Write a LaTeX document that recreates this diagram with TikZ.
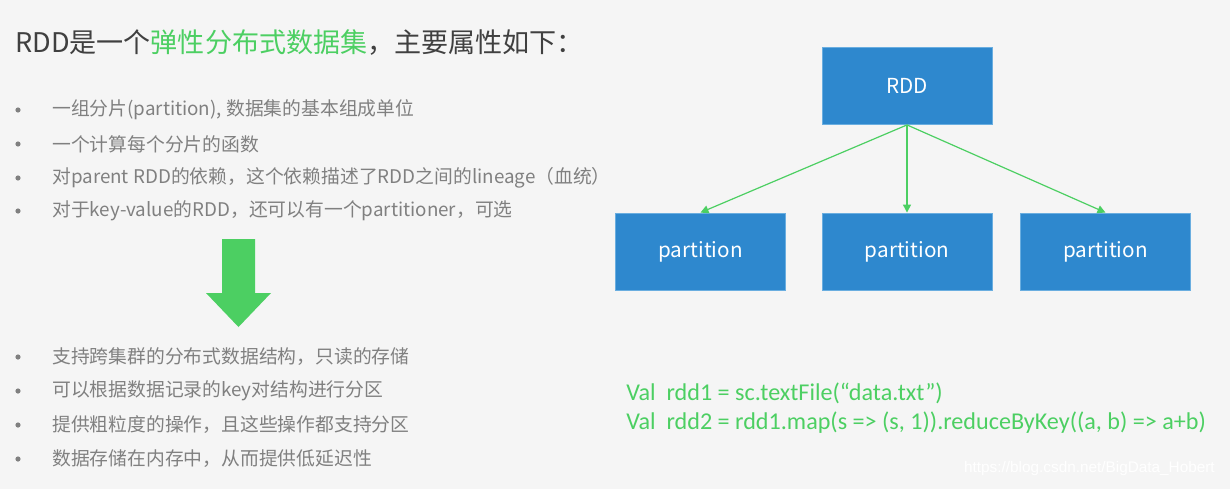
\documentclass[tikz,border=0pt]{standalone}
\usepackage{fontspec}
\setmainfont{Noto Sans CJK SC}
\newfontfamily\codefont{Carlito}
\newfontfamily\markfont{Liberation Sans}
\usetikzlibrary{arrows.meta,positioning}
\definecolor{bgcol}{HTML}{F5F5F5}
\definecolor{boxcol}{HTML}{2E88CE}
\definecolor{boxline}{HTML}{6AAEE0}
\definecolor{greencol}{HTML}{4CCF62}
\definecolor{titlecol}{HTML}{404040}
\definecolor{itemcol}{HTML}{808080}
\tikzset{
    blockbox/.style={draw=boxline,fill=boxcol,text=white,minimum width=127.5pt,minimum height=58pt,inner sep=0pt,font=\fontsize{15.5}{18}\selectfont},
    linkarrow/.style={draw=greencol,line width=0.9pt,-{Triangle[length=6pt,width=6pt]}},
    itemtext/.style={anchor=west,text=itemcol,inner sep=0pt,font=\fontsize{14.1}{17}\selectfont},
    codetext/.style={anchor=west,text=greencol,inner sep=0pt,font=\codefont\fontsize{18.1}{21}\selectfont}
}
\begin{document}
\begin{tikzpicture}[x=0.75pt,y=-0.75pt]
    %% background
    \fill[bgcol] (0,0) rectangle (1230,489);
    \useasboundingbox (0,0) rectangle (1230,489);
    %% title
    \node[anchor=west,inner sep=0pt,text=titlecol,font=\fontsize{20.3}{24}\selectfont] (title) at (15,43)
        {RDD是一个\textcolor{greencol}{弹性分布式数据集}，主要属性如下：};
    %% properties
    \foreach \y/\txt [count=\i] in {110/{一组分片(partition), 数据集的基本组成单位},
        144/{一个计算每个分片的函数},
        178/{对parent RDD的依赖，这个依赖描述了RDD之间的lineage（血统）},
        211/{对于key-value的RDD，还可以有一个partitioner，可选},
        357/{支持跨集群的分布式数据结构，只读的存储},
        391/{可以根据数据记录的key对结构进行分区},
        425/{提供粗粒度的操作，且这些操作都支持分区},
        459/{数据存储在内存中，从而提供低延迟性}} {
        \fill[itemcol] (18,\y) circle (2.6);
        \node[itemtext] (item\i) at (52,\y) {\txt};
    }
    %% big arrow
    \fill[greencol] (222,239) -- (255,239) -- (255,293) -- (271,293) -- (238.5,327)
        -- (206,293) -- (222,293) -- cycle;
    %% RDD and partitions
    \node[blockbox] (rdd) at (907,86) {RDD};
    \node[blockbox] (part2) at (907,251.5) {\raisebox{-2pt}{partition}};
    \node[blockbox] (part1) at (700.5,251.5) {\raisebox{-2pt}{partition}};
    \node[blockbox] (part3) at (1105.5,251.5) {\raisebox{-2pt}{partition}};
    \draw[linkarrow] (rdd.south) -- (part1.north);
    \draw[linkarrow] (rdd.south) -- (part2.north);
    \draw[linkarrow] (rdd.south) -- (part3.north);
    %% code
    \node[codetext] (code1) at (626,393) {Val\ \ rdd1 = sc.textFile(“data.txt”)};
    \node[codetext] (code2) at (626,423) {Val\ \ rdd2 = rdd1.map(s => (s, 1)).reduceByKey((a, b) => a+b)};
    %% watermark
    \node[anchor=east,inner sep=0pt,text=white,font=\markfont\fontsize{11.5}{14}\selectfont] (mark) at (1215,469)
        {https://blog.csdn.net/BigData\_Hobert};
\end{tikzpicture}
\end{document}
